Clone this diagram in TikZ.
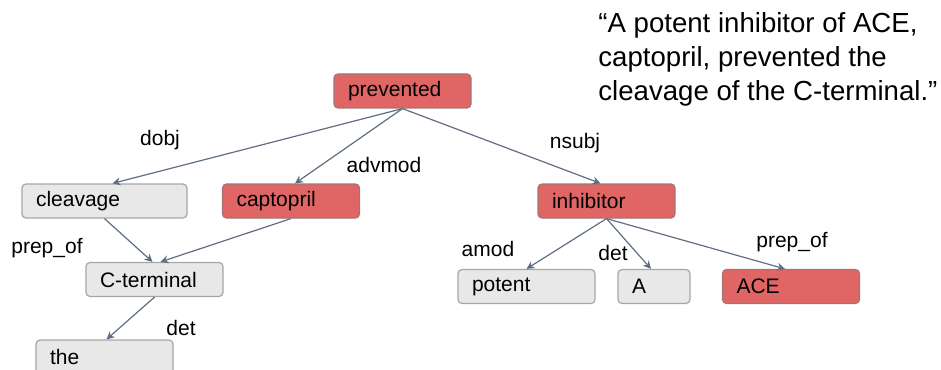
\documentclass[tikz,border=0pt]{standalone}
\usepackage{fontspec}
\setmainfont{Liberation Sans}
\usetikzlibrary{arrows.meta}
\definecolor{wordred}{HTML}{E06666}
\definecolor{wordgrey}{HTML}{E8E8E8}
\definecolor{edgeblue}{HTML}{5F6E82}

\begin{document}
\begin{tikzpicture}[x=0.5pt,y=-0.5pt,
  word/.style={rectangle,rounded corners=2pt,draw=#1!55!black!70,line width=0.6pt,
    fill=#1,minimum height=17pt,inner xsep=7pt,inner ysep=0pt,align=left,
    font=\fontsize{10.5}{12}\selectfont},
  head/.style={word=wordred,text width=54.5pt},
  dep/.style={word=wordgrey,text width=54.5pt},
  rel/.style={font=\fontsize{10.5}{12}\selectfont,inner sep=0pt},
  arc/.style={draw=edgeblue,line width=0.6pt,-{Stealth[length=4pt,width=4pt]}}]
\clip (0,0) rectangle (941,369);
% words of the sentence
\node [head] (prevented) at (402.5,91) {prevented};
\node [dep,text width=68.5pt] (cleavage) at (104.5,201) {cleavage};
\node [head] (captopril) at (291,201) {captopril};
\node [head] (inhibitor) at (606.5,201) {inhibitor};
\node [dep] (cterminal) at (154.5,279.5) {C-terminal};
\node [dep] (the) at (104.5,357) {the};
\node [dep] (potent) at (526.5,286.5) {potent};
\node [dep,text width=22pt] (A) at (654,286.5) {A};
\node [head] (ACE) at (791,286.5) {ACE};
% dependency labels
\node [rel] (dobj) at (160,140) {dobj};
\node [rel] (advmod) at (384,165) {advmod};
\node [rel] (nsubj) at (575,143) {nsubj};
\node [rel] (prepofa) at (47,248) {prep\_of};
\node [rel] (deta) at (181,328) {det};
\node [rel] (amod) at (488,249) {amod};
\node [rel] (detb) at (613,253) {det};
\node [rel] (prepofb) at (792,242) {prep\_of};
% arcs
\draw [arc] (prevented.south) -- ([xshift=4pt]cleavage.north);
\draw [arc] (prevented.south) -- ([xshift=2pt]captopril.north);
\draw [arc] (prevented.south) -- ([xshift=-3pt]inhibitor.north);
\draw [arc] (cleavage.south) -- ([xshift=-1pt]cterminal.north);
\draw [arc] (captopril.south) -- ([xshift=3pt]cterminal.north);
\draw [arc] (cterminal.south) -- ([xshift=1pt]the.north);
\draw [arc] (inhibitor.south) -- (potent.north);
\draw [arc] (inhibitor.south) -- ([xshift=-1.5pt]A.north);
\draw [arc] (inhibitor.south) -- ([xshift=-3pt]ACE.north);
% the sentence
\node [anchor=base west,align=left,inner sep=0pt,
  font=\fontsize{13.8}{16.75}\selectfont] (sentence) at (598,100)
  {``A potent inhibitor of ACE,\\captopril, prevented the\\cleavage of the C-terminal.''};
\end{tikzpicture}
\end{document}
